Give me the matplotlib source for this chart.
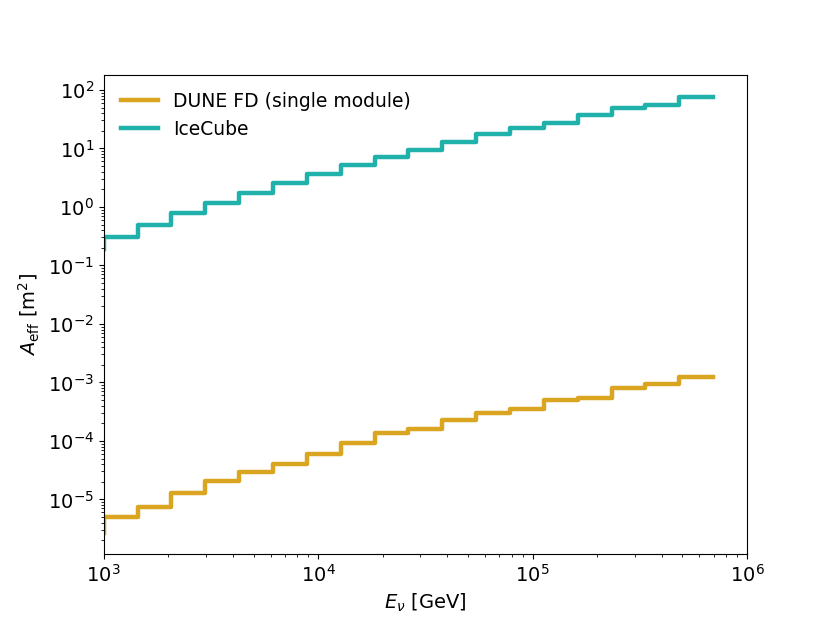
import matplotlib
matplotlib.use("Agg")
import matplotlib.pyplot as plt

# energy grid (GeV), step edges
energy = [1000, 1438, 2069, 2976, 4281, 6158, 8859, 12743, 18330, 26367,
          37927, 54556, 78476, 112884, 162378, 233572, 335982, 483293, 695193]

# effective areas [m^2], steps drawn 'pre'
aeff_dune = [2.7e-6, 4.93e-6, 7.52e-6, 1.27e-5, 2.09e-5, 2.98e-5, 4.03e-5, 5.98e-5,
             9.33e-5, 1.35e-4, 1.59e-4, 2.28e-4, 3.04e-4, 3.47e-4, 5.01e-4,
             5.34e-4, 8.04e-4, 9.41e-4, 1.26e-3]
aeff_icecube = [0.19, 0.311, 0.492, 0.777, 1.15, 1.74, 2.53, 3.66, 5.14, 7.24,
                9.54, 12.7, 17.7, 22.4, 27.6, 37.4, 48.5, 55.5, 76.9]

plt.figure(figsize=(8.3, 6.23), dpi=100)

plt.step(energy, aeff_dune, where="pre", c="goldenrod", lw=3.2, label="DUNE FD (single module)")
plt.step(energy, aeff_icecube, where="pre", c="lightseagreen", lw=3.2, label="IceCube")

plt.xscale("log")
plt.yscale("log")
plt.xlim(1e3, 1e6)

plt.xlabel(r"$E_\nu$ [GeV]", fontsize=14)
plt.ylabel(r"$A_{\rm eff}$ [m$^2$]", fontsize=14)
plt.xticks(fontsize=14)
plt.yticks(fontsize=14)
plt.legend(loc="upper left", frameon=False, fontsize=13.5)

plt.savefig("out.png", dpi=100)
